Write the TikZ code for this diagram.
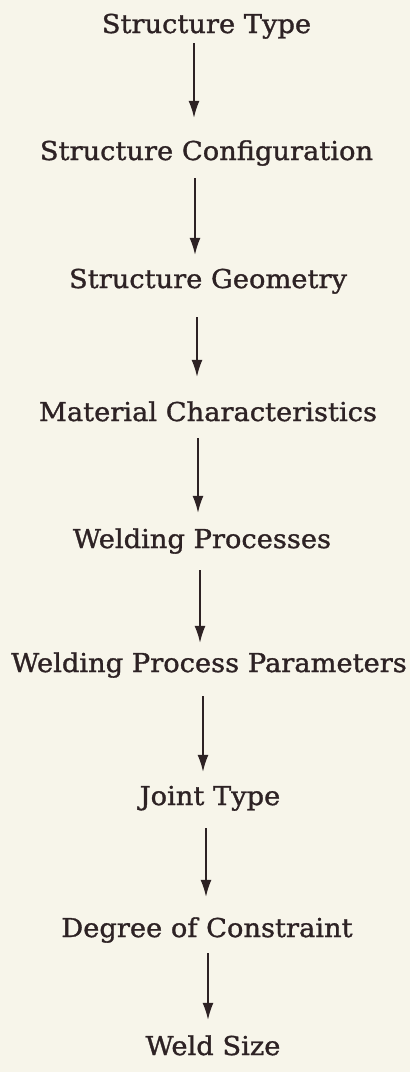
\documentclass[tikz,border=0pt]{standalone}
\usepackage{fontspec}
\setmainfont{DejaVu Serif}[FakeStretch=1.05, FakeBold=1.2]
\usetikzlibrary{arrows.meta}
\definecolor{paper}{RGB}{247,245,234}
\definecolor{ink}{RGB}{45,34,36}
\tikzset{
  stage/.style={anchor=base, inner sep=0pt, text height=17pt, text depth=5pt,
                font=\fontsize{26}{30}\selectfont, text=ink},
  flow/.style={draw=ink, line width=1.6pt,
               -{Latex[length=17pt,width=11pt]}},
}
\begin{document}
\begin{tikzpicture}[x=1pt,y=-1pt]
  \fill[paper] (0,0) rectangle (410,1072);
  \useasboundingbox (0,0) rectangle (410,1072);

  % the chain of design stages, top to bottom
  \node[stage] (st)  at (206.5,33)  {Structure Type};
  \node[stage] (sc)  at (206.5,160) {Structure Configuration};
  \node[stage] (sg)  at (208,288)   {Structure Geometry};
  \node[stage] (mc)  at (208,421)   {Material Characteristics};
  \node[stage] (wp)  at (202,548)   {Welding Processes};
  \node[stage] (wpp) at (209,672)   {Welding Process Parameters};
  \node[stage] (jt)  at (210,805)   {Joint Type};
  \node[stage] (dc)  at (207,937)   {Degree of Constraint};
  \node[stage] (ws)  at (213,1055)  {Weld Size};

  % downward arrows between consecutive stages
  \draw[flow, shorten <=5pt,  shorten >=25pt] ([xshift=-12.5pt]st.south)  -- ([xshift=-12.5pt]st.south  |- sc.north);
  \draw[flow, shorten <=13pt, shorten >=16pt] ([xshift=-11.5pt]sc.south)  -- ([xshift=-11.5pt]sc.south  |- sg.north);
  \draw[flow, shorten <=24pt, shorten >=27pt] ([xshift=-11pt]sg.south)    -- ([xshift=-11pt]sg.south    |- mc.north);
  \draw[flow, shorten <=12pt, shorten >=18pt] ([xshift=-10pt]mc.south)    -- ([xshift=-10pt]mc.south    |- wp.north);
  \draw[flow, shorten <=17pt, shorten >=12pt] ([xshift=-2pt]wp.south)     -- ([xshift=-2pt]wp.south     |- wpp.north);
  \draw[flow, shorten <=19pt, shorten >=16pt] ([xshift=-6pt]wpp.south)    -- ([xshift=-6pt]wpp.south    |- jt.north);
  \draw[flow, shorten <=18pt, shorten >=23pt] ([xshift=-4pt]jt.south)     -- ([xshift=-4pt]jt.south     |- dc.north);
  \draw[flow, shorten <=11pt, shorten >=18pt] ([xshift=1pt]dc.south)      -- ([xshift=1pt]dc.south      |- ws.north);
\end{tikzpicture}
\end{document}
